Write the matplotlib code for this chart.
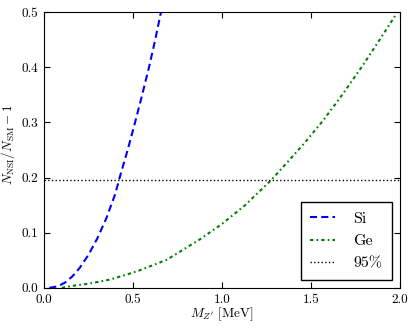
import matplotlib
matplotlib.use('Agg')
import matplotlib.pyplot as plt

# values
si_x = [0.03, 0.08, 0.12, 0.16, 0.2, 0.25, 0.3, 0.35, 0.4, 0.425, 0.47, 0.51, 0.55, 0.59, 0.625, 0.657]
si_y = [0.0, 0.003, 0.01, 0.021, 0.036, 0.06, 0.09, 0.126, 0.17, 0.2, 0.25, 0.298, 0.348, 0.4, 0.45, 0.5]

ge_x = [0.1, 0.146, 0.258, 0.37, 0.483, 0.539, 0.69, 0.876, 1.0, 1.13, 1.275, 1.365, 1.467, 1.567, 1.68, 1.79, 1.89, 1.98]
ge_y = [0.0, 0.003, 0.008, 0.015, 0.026, 0.032, 0.051, 0.088, 0.116, 0.15, 0.195, 0.227, 0.264, 0.303, 0.352, 0.403, 0.452, 0.497]

cl95 = 0.195

plt.rcParams['font.family'] = 'cmr10'
plt.rcParams['mathtext.fontset'] = 'cm'
plt.rcParams['axes.unicode_minus'] = False

fig = plt.figure(figsize=(4.15, 3.29), dpi=100)
ax = fig.add_axes([0.106, 0.125, 0.858, 0.8385])

ax.plot(si_x, si_y, color='b', lw=1.5, dashes=(3.4, 2), label='Si')
ax.plot(ge_x, ge_y, color='g', lw=1.5, dashes=(1.6, 1.5, 0.8, 1.5), label='Ge')
ax.axhline(cl95, color='k', lw=1, ls=':', label='95%')

ax.set_xlim(0, 2.0)
ax.set_ylim(0, 0.5)
ax.set_xticks([0.0, 0.5, 1.0, 1.5, 2.0])
ax.set_yticks([0.0, 0.1, 0.2, 0.3, 0.4, 0.5])
ax.set_xticklabels(['0.0', '0.5', '1.0', '1.5', '2.0'])
ax.set_yticklabels(['0.0', '0.1', '0.2', '0.3', '0.4', '0.5'])
ax.tick_params(direction='in', top=True, right=True, length=4, labelsize=9.5, pad=4)

ax.set_xlabel(r"$M_{Z'}$ [MeV]", fontsize=9.5)
ax.set_ylabel(r"$N_{\rm NSI}/N_{\rm SM}-1$", fontsize=9.5)
ax.xaxis.set_label_coords(0.5, -0.065)
ax.yaxis.set_label_coords(-0.075, 0.52)

leg = ax.legend(loc='lower right', fontsize=11.5, fancybox=False, framealpha=1,
                edgecolor='k', handlelength=1.55, handletextpad=1.15,
                borderpad=0.6, labelspacing=0.5, borderaxespad=0.5)
leg.get_frame().set_linewidth(1)

fig.savefig('out.png', dpi=100)
